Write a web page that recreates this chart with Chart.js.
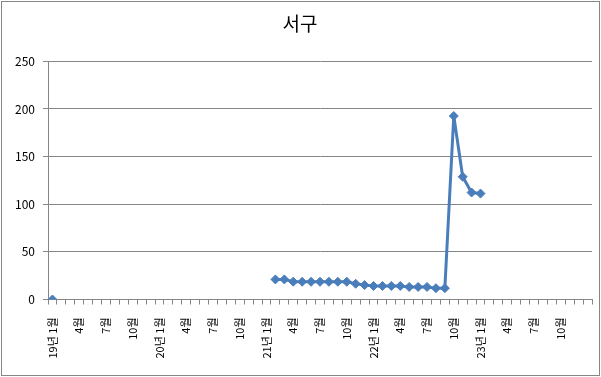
<!DOCTYPE html>
<html>
<head>
<meta charset="utf-8">
<script src="https://cdn.jsdelivr.net/npm/chart.js@4"></script>
<style>
  html, body { margin: 0; padding: 0; background: #fff; }
  #box {
    position: absolute; left: 1px; top: 1px;
    width: 597px; height: 373px;
    border: 1px solid #868686;
  }
</style>
</head>
<body>
<div id="box"><canvas id="c" width="597" height="373"></canvas></div>
<script>
// 월별 카테고리 (19년 1월 ~ 24년 1월)
var months = [
  "19년 1월", "2월", "3월", "4월", "5월", "6월", "7월", "8월", "9월", "10월", "11월", "12월",
  "20년 1월", "2월", "3월", "4월", "5월", "6월", "7월", "8월", "9월", "10월", "11월", "12월",
  "21년 1월", "2월", "3월", "4월", "5월", "6월", "7월", "8월", "9월", "10월", "11월", "12월",
  "22년 1월", "2월", "3월", "4월", "5월", "6월", "7월", "8월", "9월", "10월", "11월", "12월",
  "23년 1월", "2월", "3월", "4월", "5월", "6월", "7월", "8월", "9월", "10월", "11월", "12월",
  ""
];

// 서구 값 (빈 달은 null)
var values = [
  0, null, null, null, null, null, null, null, null, null, null, null,
  null, null, null, null, null, null, null, null, null, null, null, null,
  null, 21.1, 21.1, 18.7, 18.6, 18.6, 18.6, 18.6, 18.6, 18.6, 16.5, 15.1,
  14.2, 14.2, 14.2, 14.2, 13.2, 13.2, 13.2, 11.9, 11.9, 192.6, 128.8, 112.3,
  111.2, null, null, null, null, null, null, null, null, null, null, null,
  null
];

var yTicks = [0, 50, 100, 150, 200, 250];

var FONT = "'Noto Sans CJK KR', 'Noto Sans', sans-serif";
var GRID = "#868686";
var BLUE = "#4A7EBB";

new Chart(document.getElementById("c"), {
  type: "line",
  data: {
    labels: months,
    datasets: [{
      label: "서구",
      data: values,
      borderColor: BLUE,
      backgroundColor: BLUE,
      borderWidth: 3,
      pointStyle: "rectRot",
      pointRadius: 4.5,
      pointBorderWidth: 1,
      spanGaps: false,
      tension: 0
    }]
  },
  options: {
    responsive: false,
    animation: false,
    layout: { padding: { left: 6, right: 7, top: 0, bottom: 0 } },
    plugins: {
      legend: { display: false },
      tooltip: { enabled: false },
      title: {
        display: true,
        text: "서구",
        color: "#000",
        font: { family: FONT, size: 19, weight: "normal" },
        padding: { top: 10, bottom: 26.5 }
      }
    },
    scales: {
      x: {
        offset: true,
        grid: {
          offset: true,
          drawOnChartArea: false,
          drawTicks: true,
          tickLength: 5,
          color: GRID
        },
        border: { color: GRID, width: 1 },
        ticks: {
          autoSkip: false,
          minRotation: 90,
          maxRotation: 90,
          padding: 13,
          color: "#000",
          font: { family: FONT, size: 11 },
          callback: function (v, i) { return i % 3 === 0 ? months[i] : ""; }
        },
        afterFit: function (s) {
          s.height = 75.5;
          s.paddingLeft = 0;
          s.paddingRight = 0;
        }
      },
      y: {
        min: yTicks[0],
        max: yTicks[yTicks.length - 1],
        afterBuildTicks: function (s) {
          s.ticks = yTicks.map(function (v) { return { value: v }; });
        },
        grid: { color: GRID, tickLength: 5 },
        border: { color: GRID, width: 1 },
        ticks: {
          padding: 8,
          color: "#000",
          font: { family: FONT, size: 12 }
        },
        afterFit: function (s) { s.width = 40; }
      }
    }
  }
});
</script>
</body>
</html>
